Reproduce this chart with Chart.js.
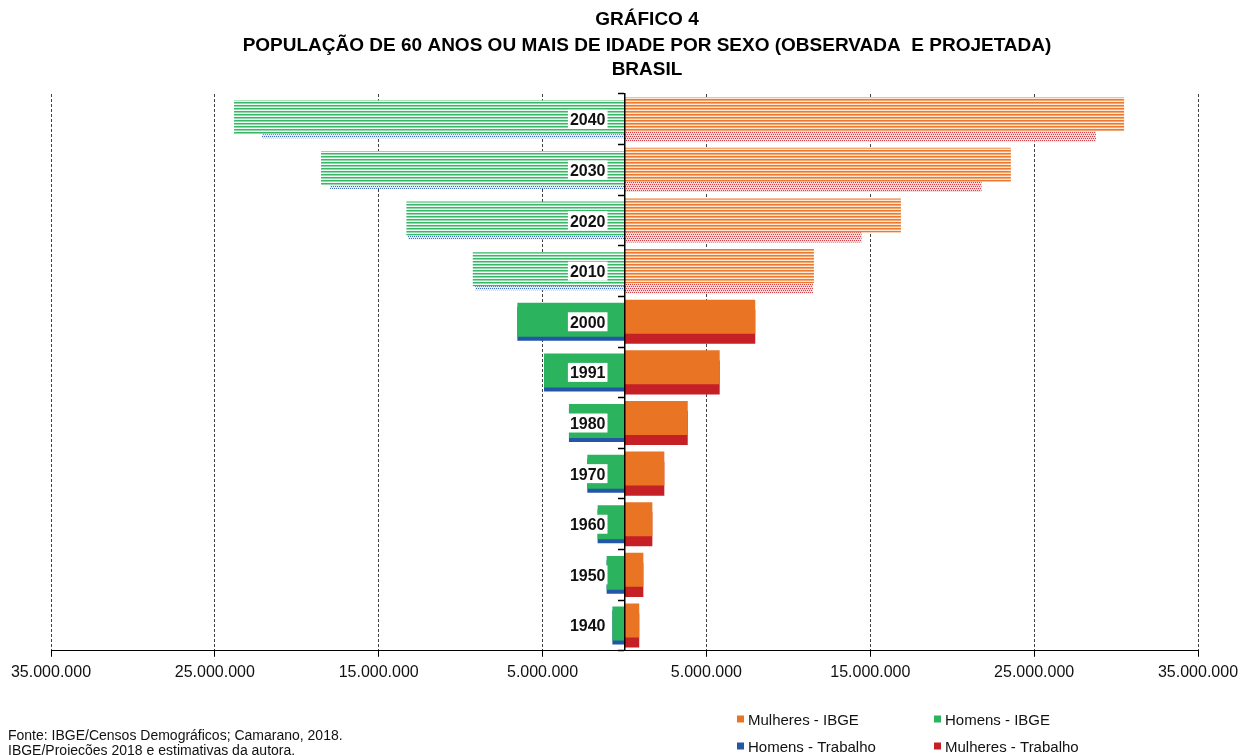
<!DOCTYPE html>
<html>
<head>
<meta charset="utf-8">
<script src="https://cdn.jsdelivr.net/npm/chart.js@4/dist/chart.umd.min.js"></script>
<style>
  html, body { margin: 0; padding: 0; background: #ffffff; overflow: hidden; }
  #wrap { width: 1246px; height: 755px; position: relative; }
</style>
</head>
<body>
<div id="wrap"><canvas id="grafico" width="1246" height="755"></canvas></div>
<script>
// ---------------- DATA ----------------
const anos = ['1940', '1950', '1960', '1970', '1980', '1991', '2000', '2010', '2020', '2030', '2040'];
const primeiroAnoProjetado = '2010';

const mulheresIBGE     = [900000, 1150000, 1700000, 2430000, 3860000, 5810000, 7980000, 11560000, 16870000, 23580000, 30490000];
const homensIBGE       = [740000, 1090000, 1640000, 2270000, 3390000, 4910000, 6540000, 9260000, 13310000, 18520000, 23830000];
const homensTrabalho   = [740000, 1090000, 1640000, 2270000, 3390000, 4910000, 6540000, 9120000, 13210000, 17970000, 22120000];
const mulheresTrabalho = [900000, 1150000, 1700000, 2430000, 3860000, 5810000, 7980000, 11500000, 14470000, 21790000, 28770000];

const xTickValues = [-35000000, -25000000, -15000000, -5000000, 5000000, 15000000, 25000000, 35000000];

const serieNomes = ['Mulheres - IBGE', 'Homens - IBGE', 'Homens - Trabalho', 'Mulheres - Trabalho'];
const tituloLinhas = ['GRÁFICO 4', 'POPULAÇÃO DE 60 ANOS OU MAIS DE IDADE POR SEXO (OBSERVADA  E PROJETADA)', 'BRASIL'];
const fonteLinhas = ['Fonte: IBGE/Censos Demográficos; Camarano, 2018.', 'IBGE/Projeções 2018 e estimativas da autora.'];

// ---------------- STYLES ----------------
const cores = { laranja: '#e87424', verde: '#2bb35e', azul: '#2456a6', vermelho: '#c62027' };
const FONT = '"Liberation Sans", Arial, Helvetica, sans-serif';

function stripePattern(rows) {
  const c = document.createElement('canvas');
  c.width = 4; c.height = rows.length;
  const g = c.getContext('2d');
  rows.forEach((col, i) => { g.fillStyle = col; g.fillRect(0, i, 4, 1); });
  return g.createPattern(c, 'repeat');
}
function dotPattern(dot, bg) {
  const c = document.createElement('canvas');
  c.width = 4; c.height = 4;
  const g = c.getContext('2d');
  g.fillStyle = bg; g.fillRect(0, 0, 4, 4);
  g.fillStyle = dot;
  [[0, 0], [2, 0], [1, 2], [3, 2]].forEach(([x, y]) => g.fillRect(x, y, 1, 1));
  return g.createPattern(c, 'repeat');
}
const padroes = {
  laranja: stripePattern(['#ea7a30', '#f4a870', '#fde8d8']),
  verde: stripePattern(['#36b866', '#92d8aa', '#f2fbf5']),
  azul: dotPattern('#3d6cc4', '#e4ecf8'),
  vermelho: dotPattern('#dc3c46', '#f9dada')
};
function fundo(chave) {
  return (ctx) => (anos[ctx.dataIndex] >= primeiroAnoProjetado ? padroes[chave] : cores[chave]);
}
function fmt(v) {
  return String(Math.round(Math.abs(v))).replace(/\B(?=(\d{3})+(?!\d))/g, '.');
}

// ---------------- TEXT / LEGEND PLUGIN ----------------
const textos = {
  id: 'textos',
  afterDatasetsDraw(chart) {
    const ctx = chart.ctx;
    const xs = chart.scales.x, ys = chart.scales.y;
    const x0 = xs.getPixelForValue(0);
    ctx.save();
    ctx.font = 'bold 16px ' + FONT;
    ctx.textAlign = 'right';
    ctx.textBaseline = 'alphabetic';
    anos.forEach((ano, i) => {
      const cy = ys.getPixelForValue(i);
      const w = ctx.measureText(ano).width;
      const right = x0 - 19;
      ctx.fillStyle = '#ffffff';
      ctx.fillRect(right - w - 2, cy - 9.5, w + 4, 19);
      ctx.fillStyle = '#111111';
      ctx.fillText(ano, right, cy + 6);
    });
    ctx.restore();
  },
  afterDraw(chart) {
    const ctx = chart.ctx;
    ctx.save();
    // title
    ctx.fillStyle = '#000000';
    ctx.font = 'bold 19px ' + FONT;
    ctx.textAlign = 'center';
    ctx.textBaseline = 'alphabetic';
    const tituloY = [25, 51, 75];
    tituloLinhas.forEach((t, i) => ctx.fillText(t, 647, tituloY[i]));
    // source
    ctx.font = '14px ' + FONT;
    ctx.textAlign = 'left';
    ctx.fillStyle = '#111111';
    fonteLinhas.forEach((t, i) => ctx.fillText(t, 8, 740 + i * 15));
    // legend
    const solidos = [cores.laranja, cores.verde, cores.azul, cores.vermelho];
    const posicoes = [[737, 719], [934, 719], [737, 746], [934, 746]];
    ctx.font = '15px ' + FONT;
    chart.data.datasets.forEach((ds, i) => {
      const [lx, ly] = posicoes[i];
      ctx.fillStyle = solidos[i];
      ctx.fillRect(lx, ly - 3.5, 7, 7);
      ctx.fillStyle = '#111111';
      ctx.fillText(ds.label, lx + 11, ly + 5.5);
    });
    ctx.restore();
  }
};

// ---------------- CHART ----------------
new Chart(document.getElementById('grafico'), {
  type: 'bar',
  data: {
    labels: anos,
    datasets: [
      { label: serieNomes[0], data: mulheresIBGE, stack: 'ibge',
        backgroundColor: fundo('laranja'), categoryPercentage: 0.4, barPercentage: 3.36, borderWidth: 0 },
      { label: serieNomes[1], data: homensIBGE.map(v => -v), stack: 'ibge',
        backgroundColor: fundo('verde'), categoryPercentage: 0.158, barPercentage: 8.5, borderWidth: 0 },
      { label: serieNomes[2], data: homensTrabalho.map(v => -v), stack: 'trab',
        backgroundColor: fundo('azul'), categoryPercentage: 0.158, barPercentage: 8.5, borderWidth: 0 },
      { label: serieNomes[3], data: mulheresTrabalho, stack: 'trab',
        backgroundColor: fundo('vermelho'), categoryPercentage: 0.4, barPercentage: 3.36, borderWidth: 0 }
    ]
  },
  options: {
    indexAxis: 'y',
    responsive: false,
    animation: false,
    events: [],
    devicePixelRatio: 1,
    layout: { padding: { left: 51, right: 48, top: 94, bottom: 67 } },
    plugins: {
      legend: { display: false },
      title: { display: false },
      tooltip: { enabled: false }
    },
    scales: {
      x: {
        type: 'linear',
        min: -35000000,
        max: 35000000,
        stacked: false,
        position: 'bottom',
        afterBuildTicks: (s) => { s.ticks = xTickValues.map(v => ({ value: v })); },
        grid: { color: '#444444', lineWidth: 1, drawTicks: true, tickLength: 6, tickColor: '#000000', tickWidth: 1 },
        border: { display: true, color: '#000000', width: 1, dash: [3, 2] },
        ticks: { font: { family: FONT, size: 16 }, color: '#111111', padding: 6, maxRotation: 0, autoSkip: false,
                 callback: (v) => fmt(v) }
      },
      y: {
        type: 'category',
        reverse: true,
        offset: true,
        position: { x: 0 },
        grid: { offset: true, drawOnChartArea: false, drawTicks: true, tickLength: 6, tickColor: '#000000', tickWidth: 1.5 },
        border: { display: true, color: '#000000', width: 1.5, z: 1 },
        ticks: { display: false }
      }
    }
  },
  plugins: [textos]
});
</script>
</body>
</html>
